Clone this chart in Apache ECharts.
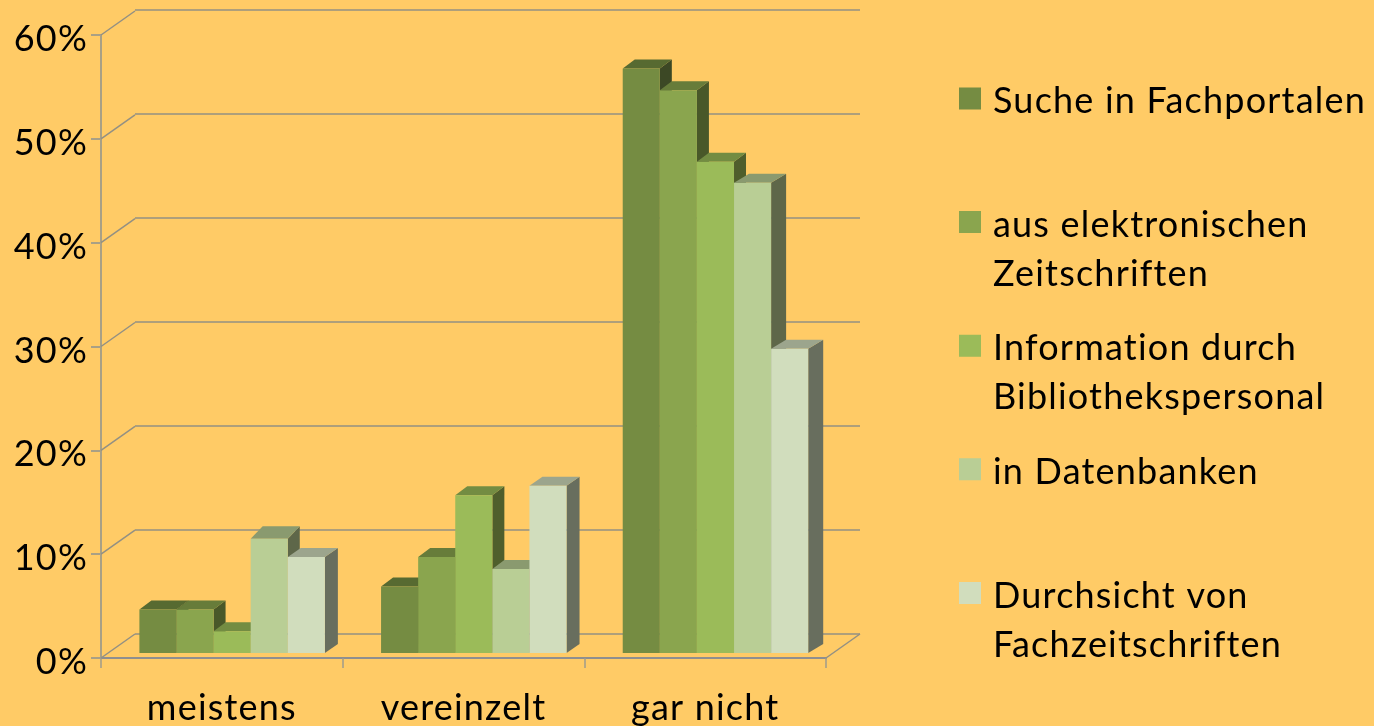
<!DOCTYPE html>
<html><head><meta charset="utf-8">
<style>html,body{margin:0;padding:0;background:#FFCB66}#c{width:1374px;height:726px}</style>
<script src="https://cdn.jsdelivr.net/npm/echarts@6/dist/echarts.min.js"></script>
</head><body><div id="c"></div>
<script>
const categories = ['meistens', 'vereinzelt', 'gar nicht'];
const seriesNames = ['Suche in Fachportalen', 'aus elektronischen Zeitschriften', 'Information durch Bibliothekspersonal', 'in Datenbanken', 'Durchsicht von Fachzeitschriften'];
const suche = [4.2, 6.4, 56.3];
const zeitschriften = [4.2, 9.25, 54.2];
const personal = [2.1, 15.2, 47.3];
const datenbanken = [11.0, 8.1, 45.3];
const durchsicht = [9.25, 16.1, 29.3];
const legendLines = {
  'Suche in Fachportalen': 'Suche in Fachportalen\n\u00a0',
  'aus elektronischen Zeitschriften': 'aus elektronischen\nZeitschriften',
  'Information durch Bibliothekspersonal': 'Information durch\nBibliothekspersonal',
  'in Datenbanken': 'in Datenbanken\n\u00a0',
  'Durchsicht von Fachzeitschriften': 'Durchsicht von\nFachzeitschriften'
};
const seriesValues = [suche, zeitschriften, personal, datenbanken, durchsicht];
const tickLevels = [0, 10, 20, 30, 40, 50, 60];

const frontColors = ['#758C42', '#8AA54E', '#9BBB59', '#B9CE95', '#D1DDBD'];
const topColors = ['#576A31', '#677C3A', '#738C42', '#8A9A6F', '#9CA58D'];
const sideColors = ['#3C4825', '#495829', '#4F5E2C', '#5E6749', '#686E5E'];
const FONT = 'Lato';
const BAR_RATIO = 0.1535;

// The reference text is set with slightly open tracking and no ligatures.
const nativeFillText = CanvasRenderingContext2D.prototype.fillText;
CanvasRenderingContext2D.prototype.fillText = function (t, x, y, m) {
  this.letterSpacing = '1.2px';
  return m === undefined ? nativeFillText.call(this, t, x, y) : nativeFillText.call(this, t, x, y, m);
};

function depthX(s, c) { if (c === 2 && s >= 3) return 15; if (s === 4) return 13; return 12; }
function depthY(s, c) { return (s === 3 && c === 0) ? 12.5 : 9; }

function barRenderer(s) {
  return function (params, api) {
    const c = api.value(0);
    const base = api.coord([c, 0]);
    const top = api.coord([c, api.value(1)]);
    const w = api.size([1, 0])[0] * BAR_RATIO;
    const x0 = base[0] + (s - 2.5) * w, x1 = x0 + w;
    const y0 = base[1], y1 = top[1];
    const dx = depthX(s, c), dy = depthY(s, c);
    const poly = (pts, fill) => ({ type: 'polygon', shape: { points: pts }, style: { fill: fill } });
    return { type: 'group', children: [
      poly([[x1, y0], [x1 + dx, y0 - dy], [x1 + dx, y1 - dy], [x1, y1]], sideColors[s]),
      poly([[x0, y1], [x0 + dx, y1 - dy], [x1 + dx, y1 - dy], [x1, y1]], topColors[s]),
      poly([[x0, y0], [x1, y0], [x1, y1], [x0, y1]], frontColors[s])
    ] };
  };
}

function diagonalRenderer(params, api) {
  const cs = params.coordSys;
  const x = cs.x + api.value(0) * cs.width;
  const y = api.coord([0, api.value(1)])[1];
  return { type: 'line', shape: { x1: x, y1: y, x2: x + 34, y2: y - 24 },
    style: { stroke: '#939083', lineWidth: 1.5 } };
}

const diagonalData = tickLevels.map(v => [0, v]).concat([[1, 0]]);

const option = {
  backgroundColor: '#FFCB66',
  animation: false,
  textStyle: { fontFamily: FONT },
  grid: [
    { left: 135, top: 10, width: 725, height: 624 },
    { left: 101, top: 35, width: 725, height: 623 },
    { left: 111.3, top: 30, width: 725, height: 623 }
  ],
  xAxis: [
    { gridIndex: 0, type: 'category', data: categories, show: false },
    { gridIndex: 1, type: 'category', data: categories,
      axisLine: { lineStyle: { color: '#8F8F8F', width: 2 } },
      axisTick: { show: true, length: 10, alignWithLabel: false, lineStyle: { color: '#A09C8C', width: 1.5 } },
      axisLabel: { fontFamily: FONT, fontSize: 36, color: '#000', margin: 32 } },
    { gridIndex: 2, type: 'category', data: categories, show: false }
  ],
  yAxis: [
    { gridIndex: 0, type: 'value', min: 0, max: 60, interval: 10,
      axisLine: { show: false }, axisTick: { show: false }, axisLabel: { show: false },
      splitLine: { show: true, lineStyle: { color: '#939083', width: 1.5 } } },
    { gridIndex: 1, type: 'value', min: 0, max: 60, interval: 10,
      axisLine: { show: true, lineStyle: { color: '#A9A085', width: 2 } },
      axisTick: { show: true, length: 10, lineStyle: { color: '#A9A085', width: 2 } },
      axisLabel: { fontFamily: FONT, fontSize: 36, color: '#000', margin: 13, formatter: '{value}%', verticalAlign: 'top', lineHeight: 9 },
      splitLine: { show: false } },
    { gridIndex: 2, type: 'value', min: 0, max: 60, interval: 10, show: false, splitLine: { show: false } }
  ],
  legend: {
    orient: 'vertical', left: 954, top: 72, itemWidth: 22, itemHeight: 98, itemGap: 25.6,
    icon: 'path://M0,0L0,0ZM0,10.5H22V32.5H0ZM0,98L0,98Z',
    data: seriesNames,
    formatter: name => legendLines[name],
    selectedMode: false,
    textStyle: { fontFamily: FONT, fontSize: 36, color: '#000', lineHeight: 49, padding: [0, 0, 0, 7] }
  },
  series: [
    { type: 'custom', name: 'frame', xAxisIndex: 1, yAxisIndex: 1, data: diagonalData, z: 1,
      renderItem: diagonalRenderer, silent: true, encode: { x: 0, y: 1 } }
  ].concat(seriesNames.map((name, s) => ({
    type: 'custom', name: name, xAxisIndex: 2, yAxisIndex: 2, z: 3 + s,
    itemStyle: { color: frontColors[s] },
    data: seriesValues[s].map((v, c) => [c, v]),
    encode: { x: 0, y: 1 },
    renderItem: barRenderer(s)
  })))
};
echarts.init(document.getElementById('c'), null, { renderer: 'canvas' }).setOption(option);
</script></body></html>
